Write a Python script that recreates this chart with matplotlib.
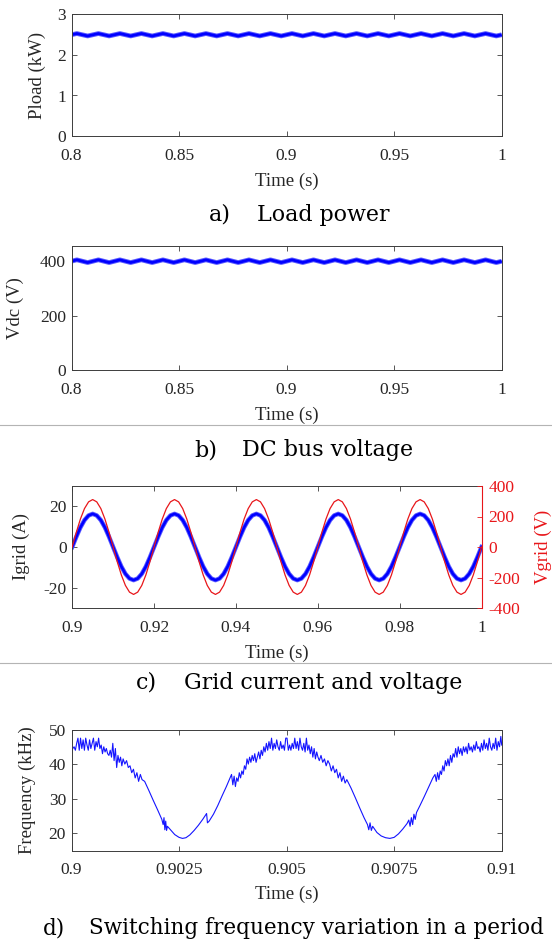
import numpy as np
import matplotlib
matplotlib.use('Agg')
import matplotlib.pyplot as plt
from matplotlib.lines import Line2D

# ---------------- data ----------------
# a) load power (kW), sampled every 2.5 ms from 0.8 s to 1.0 s
pload_kw = [
    2.50, 2.53, 2.50, 2.47, 2.50, 2.53, 2.50, 2.47, 2.50, 2.53, 2.50, 2.47,
    2.50, 2.53, 2.50, 2.47, 2.50, 2.53, 2.50, 2.47, 2.50, 2.53, 2.50, 2.47,
    2.50, 2.53, 2.50, 2.47, 2.50, 2.53, 2.50, 2.47, 2.50, 2.53, 2.50, 2.47,
    2.50, 2.53, 2.50, 2.47, 2.50, 2.53, 2.50, 2.47, 2.50, 2.53, 2.50, 2.47,
    2.50, 2.53, 2.50, 2.47, 2.50, 2.53, 2.50, 2.47, 2.50, 2.53, 2.50, 2.47,
    2.50, 2.53, 2.50, 2.47, 2.50, 2.53, 2.50, 2.47, 2.50, 2.53, 2.50, 2.47,
    2.50, 2.53, 2.50, 2.47, 2.50, 2.53, 2.50, 2.47, 2.50]
# b) DC bus voltage (V), same sampling
vdc_v = [
    400, 405, 400, 395, 400, 405, 400, 395, 400, 405, 400, 395,
    400, 405, 400, 395, 400, 405, 400, 395, 400, 405, 400, 395,
    400, 405, 400, 395, 400, 405, 400, 395, 400, 405, 400, 395,
    400, 405, 400, 395, 400, 405, 400, 395, 400, 405, 400, 395,
    400, 405, 400, 395, 400, 405, 400, 395, 400, 405, 400, 395,
    400, 405, 400, 395, 400, 405, 400, 395, 400, 405, 400, 395,
    400, 405, 400, 395, 400, 405, 400, 395, 400]
time_ab = np.linspace(0.8, 1.0, len(pload_kw))

# c) grid current (A) and grid voltage (V), sampled every 1 ms from 0.9 s to 1.0 s
igrid_a = [
    0, 5.0, 9.6, 13.2, 15.5, 16.3, 15.5, 13.2, 9.6, 5.0,
    0, -5.0, -9.6, -13.2, -15.5, -16.3, -15.5, -13.2, -9.6, -5.0,
    0, 5.0, 9.6, 13.2, 15.5, 16.3, 15.5, 13.2, 9.6, 5.0,
    0, -5.0, -9.6, -13.2, -15.5, -16.3, -15.5, -13.2, -9.6, -5.0,
    0, 5.0, 9.6, 13.2, 15.5, 16.3, 15.5, 13.2, 9.6, 5.0,
    0, -5.0, -9.6, -13.2, -15.5, -16.3, -15.5, -13.2, -9.6, -5.0,
    0, 5.0, 9.6, 13.2, 15.5, 16.3, 15.5, 13.2, 9.6, 5.0,
    0, -5.0, -9.6, -13.2, -15.5, -16.3, -15.5, -13.2, -9.6, -5.0,
    0, 5.0, 9.6, 13.2, 15.5, 16.3, 15.5, 13.2, 9.6, 5.0,
    0, -5.0, -9.6, -13.2, -15.5, -16.3, -15.5, -13.2, -9.6, -5.0,
    0]
vgrid_v = [
    0, 96, 183, 252, 296, 311, 296, 252, 183, 96,
    0, -96, -183, -252, -296, -311, -296, -252, -183, -96,
    0, 96, 183, 252, 296, 311, 296, 252, 183, 96,
    0, -96, -183, -252, -296, -311, -296, -252, -183, -96,
    0, 96, 183, 252, 296, 311, 296, 252, 183, 96,
    0, -96, -183, -252, -296, -311, -296, -252, -183, -96,
    0, 96, 183, 252, 296, 311, 296, 252, 183, 96,
    0, -96, -183, -252, -296, -311, -296, -252, -183, -96,
    0, 96, 183, 252, 296, 311, 296, 252, 183, 96,
    0, -96, -183, -252, -296, -311, -296, -252, -183, -96,
    0]
time_c = np.linspace(0.9, 1.0, len(igrid_a))

# d) switching frequency (kHz) over half a grid period
freq_time_s = [
    0.90000, 0.90003, 0.90006, 0.90009, 0.90012, 0.90015, 0.90018, 0.90021, 0.90024, 0.90027,
    0.90030, 0.90033, 0.90036, 0.90039, 0.90042, 0.90045, 0.90048, 0.90051, 0.90054, 0.90057,
    0.90060, 0.90063, 0.90066, 0.90069, 0.90072, 0.90075, 0.90078, 0.90081, 0.90084, 0.90087,
    0.90090, 0.90093, 0.90096, 0.90099, 0.90102, 0.90105, 0.90108, 0.90111, 0.90114, 0.90117,
    0.90120, 0.90124, 0.90128, 0.90132, 0.90136, 0.90140, 0.90144, 0.90148, 0.90152, 0.90156,
    0.90160, 0.90164, 0.90170, 0.90180, 0.90190, 0.90200, 0.90210, 0.90213, 0.90215, 0.90217,
    0.90219, 0.90221, 0.90223, 0.90230, 0.90240, 0.90250, 0.90258, 0.90266, 0.90275, 0.90285,
    0.90295, 0.90305, 0.90312, 0.90314, 0.90316, 0.90320, 0.90330, 0.90340, 0.90350, 0.90360,
    0.90368, 0.90372, 0.90375, 0.90378, 0.90381, 0.90384, 0.90387, 0.90390, 0.90393, 0.90396,
    0.90399, 0.90402, 0.90405, 0.90408, 0.90411, 0.90414, 0.90417, 0.90420, 0.90423, 0.90426,
    0.90429, 0.90432, 0.90435, 0.90438, 0.90441, 0.90444, 0.90447, 0.90450, 0.90453, 0.90456,
    0.90459, 0.90462, 0.90465, 0.90468, 0.90471, 0.90474, 0.90477, 0.90480, 0.90483, 0.90486,
    0.90489, 0.90492, 0.90495, 0.90498, 0.90501, 0.90504, 0.90507, 0.90510, 0.90513, 0.90516,
    0.90519, 0.90522, 0.90525, 0.90528, 0.90531, 0.90534, 0.90537, 0.90540, 0.90543, 0.90546,
    0.90549, 0.90552, 0.90555, 0.90558, 0.90561, 0.90564, 0.90567, 0.90570, 0.90573, 0.90576,
    0.90580, 0.90584, 0.90588, 0.90592, 0.90596, 0.90600, 0.90604, 0.90608, 0.90612, 0.90616,
    0.90620, 0.90624, 0.90628, 0.90632, 0.90636, 0.90640, 0.90650, 0.90660, 0.90670, 0.90680,
    0.90688, 0.90691, 0.90694, 0.90697, 0.90700, 0.90710, 0.90720, 0.90730, 0.90740, 0.90750,
    0.90760, 0.90770, 0.90780, 0.90784, 0.90787, 0.90790, 0.90793, 0.90796, 0.90799, 0.90802,
    0.90810, 0.90820, 0.90830, 0.90840, 0.90845, 0.90848, 0.90851, 0.90854, 0.90857, 0.90860,
    0.90863, 0.90866, 0.90869, 0.90872, 0.90875, 0.90878, 0.90881, 0.90884, 0.90887, 0.90890,
    0.90893, 0.90896, 0.90899, 0.90902, 0.90905, 0.90908, 0.90911, 0.90914, 0.90917, 0.90920,
    0.90923, 0.90926, 0.90929, 0.90932, 0.90935, 0.90938, 0.90941, 0.90944, 0.90947, 0.90950,
    0.90953, 0.90956, 0.90959, 0.90962, 0.90965, 0.90968, 0.90971, 0.90974, 0.90977, 0.90980,
    0.90983, 0.90986, 0.90989, 0.90992, 0.90995, 0.90998, 0.91000]
freq_khz = [
    43.5, 44.5, 45.0, 44.0, 46.0, 47.5, 44.0, 47.5, 44.5, 47.0,
    44.0, 47.5, 45.5, 44.0, 47.0, 44.5, 46.0, 47.5, 44.0, 46.5,
    45.0, 47.5, 44.5, 45.5, 43.0, 45.0, 43.5, 44.5, 43.0, 42.5,
    44.0, 42.0, 46.0, 41.0, 44.5, 39.0, 42.5, 40.5, 42.0, 39.5,
    41.5, 40.0, 41.0, 39.0, 39.5, 37.5, 38.5, 36.0, 37.5, 35.0,
    37.0, 35.5, 35.0, 32.3, 29.5, 26.8, 24.0, 22.5, 24.5, 21.0,
    23.5, 20.8, 22.0, 21.0, 19.6, 18.8, 18.5, 18.7, 19.5, 20.8,
    22.3, 24.0, 25.3, 25.7, 23.0, 23.5, 25.5, 28.0, 30.8, 33.5,
    35.8, 37.0, 34.0, 36.5, 33.5, 36.0, 35.0, 37.5, 36.0, 38.0,
    37.0, 39.5, 38.5, 41.5, 40.0, 42.0, 40.5, 42.5, 41.0, 43.0,
    40.5, 42.0, 43.5, 41.5, 44.0, 42.5, 45.0, 43.5, 46.0, 44.0,
    46.5, 44.5, 47.5, 44.0, 46.0, 44.5, 47.0, 45.0, 44.0, 46.5,
    44.5, 45.5, 44.0, 47.5, 47.5, 44.0, 45.5, 44.0, 46.0, 44.5,
    47.5, 44.5, 46.5, 44.0, 47.5, 45.0, 44.0, 46.0, 43.5, 47.5,
    44.0, 45.5, 43.0, 45.0, 42.0, 44.5, 41.5, 43.5, 42.0, 41.0,
    42.5, 40.5, 41.5, 39.5, 41.0, 40.0, 38.0, 39.5, 37.5, 38.5,
    36.0, 37.5, 35.0, 36.5, 34.5, 35.5, 33.0, 30.2, 27.3, 24.5,
    22.5, 21.0, 23.0, 20.8, 22.0, 20.2, 19.2, 18.7, 18.5, 18.8,
    19.8, 21.2, 22.8, 23.8, 22.0, 24.5, 22.5, 25.5, 24.0, 26.0,
    28.0, 30.6, 33.3, 36.0, 37.0, 35.0, 37.5, 35.5, 38.0, 37.0,
    39.5, 38.0, 41.0, 39.5, 41.5, 39.5, 42.5, 40.5, 43.0, 42.0,
    44.5, 42.0, 45.0, 43.0, 44.5, 42.5, 45.0, 43.5, 45.0, 43.0,
    46.0, 44.0, 45.0, 43.5, 45.5, 44.0, 46.5, 44.5, 45.0, 43.5,
    46.0, 44.0, 47.0, 44.5, 46.0, 44.0, 47.5, 45.0, 44.0, 46.0,
    44.5, 47.5, 44.0, 46.5, 45.0, 48.0, 45.5]

# ticks
xticks_ab = [0.8, 0.85, 0.9, 0.95, 1.0]
xticklabels_ab = ['0.8', '0.85', '0.9', '0.95', '1']
yticks_a = [0, 1, 2, 3]
yticks_b = [0, 200, 400]
xticks_c = [0.9, 0.92, 0.94, 0.96, 0.98, 1.0]
xticklabels_c = ['0.9', '0.92', '0.94', '0.96', '0.98', '1']
yticks_c_left = [-20, 0, 20]
yticks_c_right = [-400, -200, 0, 200, 400]
xticks_d = [0.9, 0.9025, 0.905, 0.9075, 0.91]
xticklabels_d = ['0.9', '0.9025', '0.905', '0.9075', '0.91']
yticks_d = [20, 30, 40, 50]

captions = [('a)', 'Load power'), ('b)', 'DC bus voltage'),
            ('c)', 'Grid current and voltage'),
            ('d)', 'Switching frequency variation in a period')]

# ---------------- styling ----------------
W, H = 552, 941
SERIF = ['Liberation Serif', 'DejaVu Serif']
CAPFONT = ['DejaVu Serif']
AXC = '#3c3c3c'
TXT = '#262626'
BLUE = '#0000ff'
RED = '#e8161a'
TICK_FS = 12.5
LAB_FS = 13.5
CAP_FS = [15.9, 15.9, 15.9, 15.5]

plt.rcParams['font.family'] = SERIF
plt.rcParams['axes.unicode_minus'] = False

fig = plt.figure(figsize=(W / 100, H / 100), dpi=100)


def px_axes(left, top, right, bottom):
    return fig.add_axes([left / W, 1 - bottom / H, (right - left) / W, (bottom - top) / H])


def style(ax, right=True):
    for s in ax.spines.values():
        s.set_color(AXC)
        s.set_linewidth(0.7)
    ax.tick_params(direction='in', length=3.5, width=0.6, colors=AXC,
                   labelcolor=TXT, labelsize=TICK_FS, top=True, right=right, pad=4)
    ax.tick_params(axis='x', pad=8.5)


def ylab(ax, text, xpx, left_px, width_px):
    ax.set_ylabel(text, fontsize=LAB_FS, color=TXT, va='center')
    ax.yaxis.set_label_coords((xpx - left_px) / width_px, 0.5)


def xlab(ax, text, ypx, top_px, bottom_px):
    ax.set_xlabel(text, fontsize=LAB_FS, color=TXT, va='center')
    ax.xaxis.set_label_coords(0.5, -(ypx - bottom_px) / (bottom_px - top_px))


# a) load power
L, R = 71.5, 501.7
ax1 = px_axes(L, 14.5, R, 136)
ax1.plot(time_ab, pload_kw, color='#5a5aff', lw=3.4, solid_capstyle='butt')
ax1.plot(time_ab, pload_kw, color=BLUE, lw=2.0, solid_capstyle='butt')
ax1.set_xlim(0.8, 1.0)
ax1.set_ylim(0, 3)
ax1.set_xticks(xticks_ab)
ax1.set_xticklabels(xticklabels_ab)
ax1.set_yticks(yticks_a)
style(ax1)
ylab(ax1, 'Pload (kW)', 37, L, R - L)
xlab(ax1, 'Time (s)', 181, 14.5, 136)

# b) DC bus voltage
ax2 = px_axes(L, 245.7, R, 370)
ax2.plot(time_ab, vdc_v, color='#5a5aff', lw=3.4, solid_capstyle='butt')
ax2.plot(time_ab, vdc_v, color=BLUE, lw=2.0, solid_capstyle='butt')
ax2.set_xlim(0.8, 1.0)
ax2.set_ylim(0, 457)
ax2.set_xticks(xticks_ab)
ax2.set_xticklabels(xticklabels_ab)
ax2.set_yticks(yticks_b)
style(ax2)
ylab(ax2, 'Vdc (V)', 15, L, R - L)
xlab(ax2, 'Time (s)', 415, 245.7, 370)

# c) grid current and voltage
Lc, Rc = 72.2, 481.5
ax3 = px_axes(Lc, 486, Rc, 608)
ax3.plot(time_c, igrid_a, color='#5a5aff', lw=3.2)
ax3.plot(time_c, igrid_a, color=BLUE, lw=1.9)
ax3.set_xlim(0.9, 1.0)
ax3.set_ylim(-30, 30)
ax3.set_xticks(xticks_c)
ax3.set_xticklabels(xticklabels_c)
ax3.set_yticks(yticks_c_left)
style(ax3, right=False)
ylab(ax3, 'Igrid (A)', 21, Lc, Rc - Lc)
xlab(ax3, 'Time (s)', 653, 486, 608)
ax3b = ax3.twinx()
ax3b.plot(time_c, vgrid_v, color=RED, lw=0.9)
ax3b.set_ylim(-400, 400)
ax3b.set_yticks(yticks_c_right)
for s in ax3b.spines.values():
    s.set_visible(False)
ax3b.spines['right'].set_visible(True)
ax3b.spines['right'].set_color(RED)
ax3b.spines['right'].set_linewidth(0.8)
ax3b.tick_params(axis='y', direction='in', length=3.5, width=0.6, colors=RED,
                 labelcolor=RED, labelsize=TICK_FS, pad=5)
ax3b.set_ylabel('Vgrid (V)', fontsize=LAB_FS, color=RED, rotation=90, va='center')
ax3b.yaxis.set_label_coords((543 - Lc) / (Rc - Lc), 0.5)

# d) switching frequency
ax4 = px_axes(L, 729.5, R, 850.5)
ax4.plot(freq_time_s, freq_khz, color='#1414ff', lw=0.8)
ax4.set_xlim(0.9, 0.91)
ax4.set_ylim(15, 50)
ax4.set_xticks(xticks_d)
ax4.set_xticklabels(xticklabels_d)
ax4.set_yticks(yticks_d)
style(ax4)
ylab(ax4, 'Frequency (kHz)', 27.5, L, R - L)
xlab(ax4, 'Time (s)', 894, 729.5, 850.5)

# separator lines
for ypx in (425, 662.7):
    fig.add_artist(Line2D([0, 1], [1 - ypx / H, 1 - ypx / H], transform=fig.transFigure,
                          color='#b4b4b4', lw=0.8))

# captions
cap_pos = [(209, 257, 215), (194, 242, 450), (136, 184, 683), (43, 89, 928)]
for (lab, txt), (x1, x2, yc), fs in zip(captions, cap_pos, CAP_FS):
    fig.text(x1 / W, 1 - yc / H, lab, fontsize=fs, family=CAPFONT,
             color='black', ha='left', va='center')
    fig.text(x2 / W, 1 - yc / H, txt, fontsize=fs, family=CAPFONT,
             color='black', ha='left', va='center')

fig.savefig('out.png', dpi=100)
